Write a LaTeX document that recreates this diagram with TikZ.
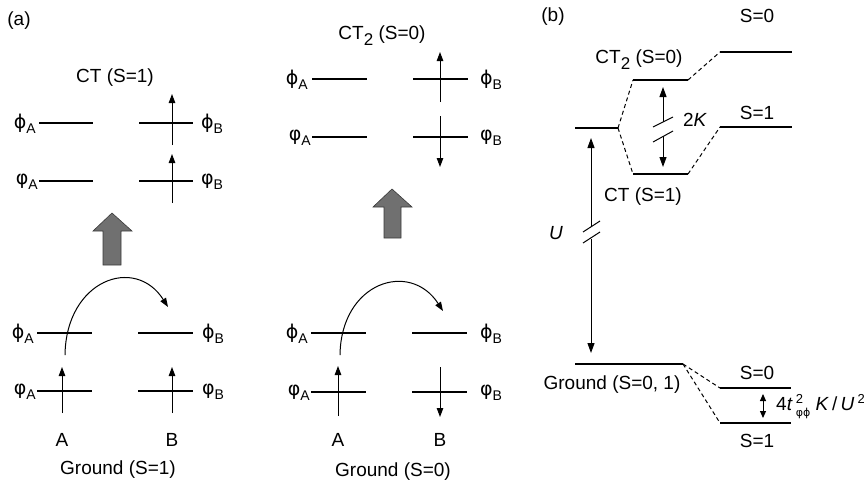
\documentclass[tikz,border=0pt]{standalone}
\usepackage{fontspec}
\setmainfont{Liberation Sans}
\newfontfamily\grk{DejaVu Sans}
\usetikzlibrary{arrows.meta, positioning, calc}
\definecolor{blockgray}{HTML}{707070}
\definecolor{blockedge}{HTML}{3A3A3A}
\newcommand{\orb}[2]{{\grk #1}\raisebox{-5pt}{\fontsize{14}{14}\selectfont #2}}
\newcommand{\lowtwo}{\raisebox{-6pt}{\fontsize{17}{17}\selectfont 2}}

\begin{document}
\begin{tikzpicture}[
  x=1pt, y=-1pt,
  txt/.style={inner sep=0pt, font=\fontsize{19}{22}\selectfont},
  level/.style={line width=2.2pt},
  spin/.style={line width=1pt, -{Triangle[length=9pt,width=6.5pt]}},
  hop/.style={line width=1pt, -{Triangle[length=9pt,width=6.5pt]}},
  gap/.style={line width=1pt, -{Triangle[length=10pt,width=7pt]}},
  corr/.style={line width=1pt, dashed, dash pattern=on 4pt off 3pt},
  tick/.style={line width=1pt},
  bigarrow/.style={fill=blockgray, draw=blockedge, line width=0.6pt}
]
  \useasboundingbox (0,0) rectangle (864,485);

  % (a) CT (S=1)
  \node[txt] (lbla) at (19,21) {(a)};
  \node[txt] (ct1) at (115,78) {CT (S=1)};
  \draw[level] (39,123) coordinate (c1ua) -- (93,123);
  \draw[level] (139,123) -- (193,123) coordinate (c1ub);
  \draw[level] (39,181) coordinate (c1la) -- (93,181);
  \draw[level] (139,181) -- (193,181) coordinate (c1lb);
  \node[txt, anchor=east] (c1uat) at ($(c1ua)+(-3,1)$) {\orb{ϕ}{A}};
  \node[txt, anchor=west] (c1ubt) at ($(c1ub)+(8,1)$) {\orb{ϕ}{B}};
  \node[txt, anchor=east] (c1lat) at ($(c1la)+(-1,1)$) {\orb{φ}{A}};
  \node[txt, anchor=west] (c1lbt) at ($(c1lb)+(8,1)$) {\orb{φ}{B}};
  \draw[spin] (172,145) -- (172,94);
  \draw[spin] (172,203) -- (172,154);

  % (a) CT2 (S=0)
  \node[txt] (ct2) at (382,36) {CT\lowtwo{} (S=0)};
  \draw[level] (312,79) coordinate (c2ua) -- (367,79);
  \draw[level] (413,79) -- (468,79) coordinate (c2ub);
  \draw[level] (312,137) coordinate (c2la) -- (367,137);
  \draw[level] (413,137) -- (468,137) coordinate (c2lb);
  \node[txt, anchor=east] (c2uat) at ($(c2ua)+(-4,1)$) {\orb{ϕ}{A}};
  \node[txt, anchor=west] (c2ubt) at ($(c2ub)+(12,1)$) {\orb{ϕ}{B}};
  \node[txt, anchor=east] (c2lat) at ($(c2la)+(-1,1)$) {\orb{φ}{A}};
  \node[txt, anchor=west] (c2lbt) at ($(c2lb)+(12,1)$) {\orb{φ}{B}};
  \draw[spin] (440,102) -- (440,52);
  \draw[spin] (440,116) -- (440,167);

  % Excitation arrows
  \draw[bigarrow] (103,265) -- (103,231) -- (93,231) -- (112,213) -- (132,231)
    -- (121,231) -- (121,265) -- cycle;
  \draw[bigarrow] (384,238) -- (384,207) -- (373,207) -- (392,189) -- (412,207)
    -- (401,207) -- (401,238) -- cycle;

  % (a) Ground (S=1)
  \draw[level] (37,333) coordinate (g1ua) -- (92,333);
  \draw[level] (138,333) -- (193,333) coordinate (g1ub);
  \draw[level] (37,391) coordinate (g1la) -- (92,391);
  \draw[level] (138,391) -- (193,391) coordinate (g1lb);
  \node[txt, anchor=east] (g1uat) at ($(g1ua)+(-3,1)$) {\orb{ϕ}{A}};
  \node[txt, anchor=west] (g1ubt) at ($(g1ub)+(9,1)$) {\orb{ϕ}{B}};
  \node[txt, anchor=east] (g1lat) at ($(g1la)+(-1,1)$) {\orb{φ}{A}};
  \node[txt, anchor=west] (g1lbt) at ($(g1lb)+(9,1)$) {\orb{φ}{B}};
  \draw[spin] (62,413) -- (62,367);
  \draw[spin] (172,413) -- (172,367);
  \coordinate (g1hs) at (65,355);
  \coordinate (g1he) at (168,307);
  \draw[hop] (g1hs) .. controls (66,280) and (135,255) .. (g1he);
  \node[txt] (g1a) at (62,440) {A};
  \node[txt] (g1b) at (172,440) {B};
  \node[txt] (g1) at (118,470) {Ground (S=1)};

  % (a) Ground (S=0)
  \draw[level] (311,333) coordinate (g0ua) -- (366,333);
  \draw[level] (412,333) -- (467,333) coordinate (g0ub);
  \draw[level] (311,392) coordinate (g0la) -- (366,392);
  \draw[level] (412,392) -- (467,392) coordinate (g0lb);
  \node[txt, anchor=east] (g0uat) at ($(g0ua)+(-3,1)$) {\orb{ϕ}{A}};
  \node[txt, anchor=west] (g0ubt) at ($(g0ub)+(13,1)$) {\orb{ϕ}{B}};
  \node[txt, anchor=east] (g0lat) at ($(g0la)+(-1,1)$) {\orb{φ}{A}};
  \node[txt, anchor=west] (g0lbt) at ($(g0lb)+(13,1)$) {\orb{φ}{B}};
  \draw[spin] (338,416) -- (338,366);
  \draw[spin] (440,367) -- (440,417);
  \coordinate (g0hs) at (340,355);
  \coordinate (g0he) at (443,311);
  \draw[hop] (g0hs) .. controls (341,282) and (410,260) .. (g0he);
  \node[txt] (g0a) at (338,440) {A};
  \node[txt] (g0b) at (440,440) {B};
  \node[txt] (g0) at (393,472) {Ground (S=0)};

  % (b) levels
  \node[txt] (lblb) at (553,17) {(b)};
  \draw[level] (575,128) coordinate (ctl) -- (618,128) coordinate (ctr);
  \draw[level] (633,80) coordinate (t2l) -- (688,80) coordinate (t2r);
  \draw[level] (633,174) coordinate (t1l) -- (688,174) coordinate (t1r);
  \draw[level] (720,52) coordinate (s0l) -- (792,52);
  \draw[level] (720,127) coordinate (s1l) -- (792,127);
  \draw[level] (575,364) coordinate (grl) -- (683,364) coordinate (grr);
  \draw[level] (720,388) coordinate (q0l) -- (791,388);
  \draw[level] (720,423) coordinate (q1l) -- (791,423);

  % (b) correlation lines
  \draw[corr] (ctr) -- (t2l);
  \draw[corr] (ctr) -- (t1l);
  \draw[corr] (t2r) -- (s0l);
  \draw[corr] (t1r) -- (s1l);
  \draw[corr] (grr) -- (q0l);
  \draw[corr] (grr) -- (q1l);

  % (b) gaps
  \coordinate (ua) at (591,227);
  \coordinate (ub) at (591,239);
  \draw[gap] (ua) -- (591,138);
  \draw[gap] (ub) -- (591,353);
  \draw[tick] (583,232) -- (600,221);
  \draw[tick] (583,243) -- (600,232);
  \coordinate (ka) at (663,122);
  \coordinate (kb) at (663,136);
  \draw[gap] (ka) -- (663,87);
  \draw[gap] (kb) -- (663,167);
  \draw[tick] (653,127) -- (673,117);
  \draw[tick] (653,142) -- (673,131);
  \draw[line width=1pt, {Triangle[length=7pt,width=6pt]}-{Triangle[length=7pt,width=6pt]}]
    (763,394) -- (763,418);

  % (b) labels
  \node[txt] (bs0) at (757,16) {S=0};
  \node[txt] (bs1) at (757,113) {S=1};
  \node[txt] (bct2) at (639,60) {CT\lowtwo{} (S=0)};
  \node[txt] (bct1) at (643,197) {CT (S=1)};
  \node[txt] (b2k) at (695,120) {2\textit{K}};
  \node[txt] (bu) at (556,233) {\textit{U}};
  \node[txt] (bgr) at (612,385) {Ground (S=0, 1)};
  \node[txt] (bq0) at (757,373) {S=0};
  \node[txt] (bq1) at (757,441) {S=1};
  \node[txt, anchor=west] (bex) at (776,407)
    {4\textit{t}\,\rlap{\raisebox{7pt}{\fontsize{13}{13}\selectfont 2}}\raisebox{-6pt}{\fontsize{11}{11}\selectfont\grk φϕ}\ \textit{K}\,/\,\textit{U}\,\raisebox{7pt}{\fontsize{13}{13}\selectfont 2}};
\end{tikzpicture}
\end{document}
